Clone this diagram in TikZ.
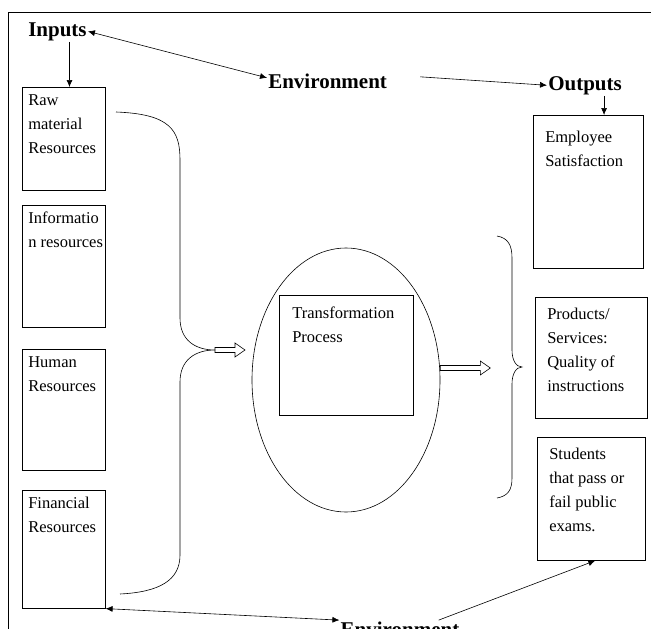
\documentclass[tikz,border=0pt]{standalone}
\usepackage{fontspec}
\setmainfont{Liberation Serif}
\usetikzlibrary{arrows.meta, shapes.geometric, positioning}

\newcommand{\blockarrow}[2]{% start point, length
  \draw #1 ++(0,-2.5) -- ++(#2-10,0) -- ++(0,-4.5) -- ++(10,7) -- ++(-10,7)
    -- ++(0,-4.5) -- ++(-#2+10,0) -- cycle;}

\begin{document}
\begin{tikzpicture}[x=1pt, y=-1pt, >={Latex[length=7pt,width=6pt]}, line width=0.6pt,
  box/.style={draw, anchor=north west, inner sep=0pt},
  box text/.style={anchor=north west, align=left, inner xsep=6pt, inner ysep=7pt,
    font=\fontsize{16.5}{24}\selectfont},
  label node/.style={font=\bfseries\fontsize{21}{24}\selectfont, inner sep=1pt}]
  \useasboundingbox (0,0) rectangle (651,629);
  \draw (8,629) -- (8,12) -- (651,12);

  % labels
  \node[label node, anchor=base west] (inputs) at (27,36) {Inputs};
  \node[label node, anchor=base west] (envtop) at (267,88) {Environment};
  \node[label node, anchor=base west] (outputs) at (547,90) {Outputs};
  \node[label node, anchor=base] (envbot) at (400,636) {Environment};

  % inputs
  \node[box, minimum width=83, minimum height=103] (raw) at (22,87) {};
  \node[box text] at (raw.north west) {Raw\\material\\Resources};
  \node[box, minimum width=83, minimum height=122] (info) at (22,205) {};
  \node[box text] at (info.north west) {Informatio\\n resources};
  \node[box, minimum width=83, minimum height=121] (human) at (22,349) {};
  \node[box text] at (human.north west) {Human\\Resources};
  \node[box, minimum width=83, minimum height=118] (fin) at (22,490) {};
  \node[box text] at (fin.north west) {Financial\\Resources};

  % process
  \node[draw, ellipse, minimum width=188, minimum height=264] (proc) at (346,380) {};
  \node[box, minimum width=134, minimum height=120] (trans) at (279,295) {};
  \node[box text, xshift=7pt, yshift=-5pt] at (trans.north west) {Transformation\\Process};

  % outputs
  \node[box, minimum width=110, minimum height=153] (emp) at (533,115) {};
  \node[box text, xshift=6pt, yshift=-9pt] at (emp.north west) {Employee\\Satisfaction};
  \node[box, minimum width=112, minimum height=121] (prod) at (535,297) {};
  \node[box text, xshift=6pt, yshift=-4pt] at (prod.north west) {Products/\\Services:\\Quality of\\instructions};
  \node[box, minimum width=108, minimum height=123] (stud) at (537,437) {};
  \node[box text, xshift=6pt, yshift=-4pt] at (stud.north west) {Students\\that pass or\\fail public\\exams.};

  % braces and block arrows
  \draw (116,112) .. controls (170,114) and (180,130) .. (180,160) -- (180,318)
    .. controls (180,340) and (195,350) .. (215,350)
    .. controls (195,350) and (180,360) .. (180,382) -- (180,555)
    .. controls (180,580) and (160,592) .. (120,594);
  \blockarrow{(215,350)}{30}
  \blockarrow{(proc.east |- 0,368)}{50}
  \draw (497,236) .. controls (508,238) and (512,245) .. (512,258) -- (512,350)
    .. controls (512,360) and (516,367) .. (522,367)
    .. controls (516,367) and (512,374) .. (512,384) -- (512,478)
    .. controls (512,490) and (508,496) .. (497,498);

  % connectors
  \draw[<->] (inputs.east) -- ([yshift=3pt]envtop.west);
  \draw[->] ([xshift=32pt,yshift=4pt]envtop.east) -- (outputs.west);
  \draw[->] ([xshift=12pt]inputs.south) -- ([xshift=12pt]inputs.south |- raw.north);
  \draw[->] ([xshift=19pt]outputs.south) -- ([xshift=19pt]outputs.south |- emp.north);
  \draw[<->] (fin.south east) -- (envbot.north west);
  \draw[->] ([xshift=-22pt]envbot.north east) -- ([xshift=4pt]stud.south);
\end{tikzpicture}
\end{document}
